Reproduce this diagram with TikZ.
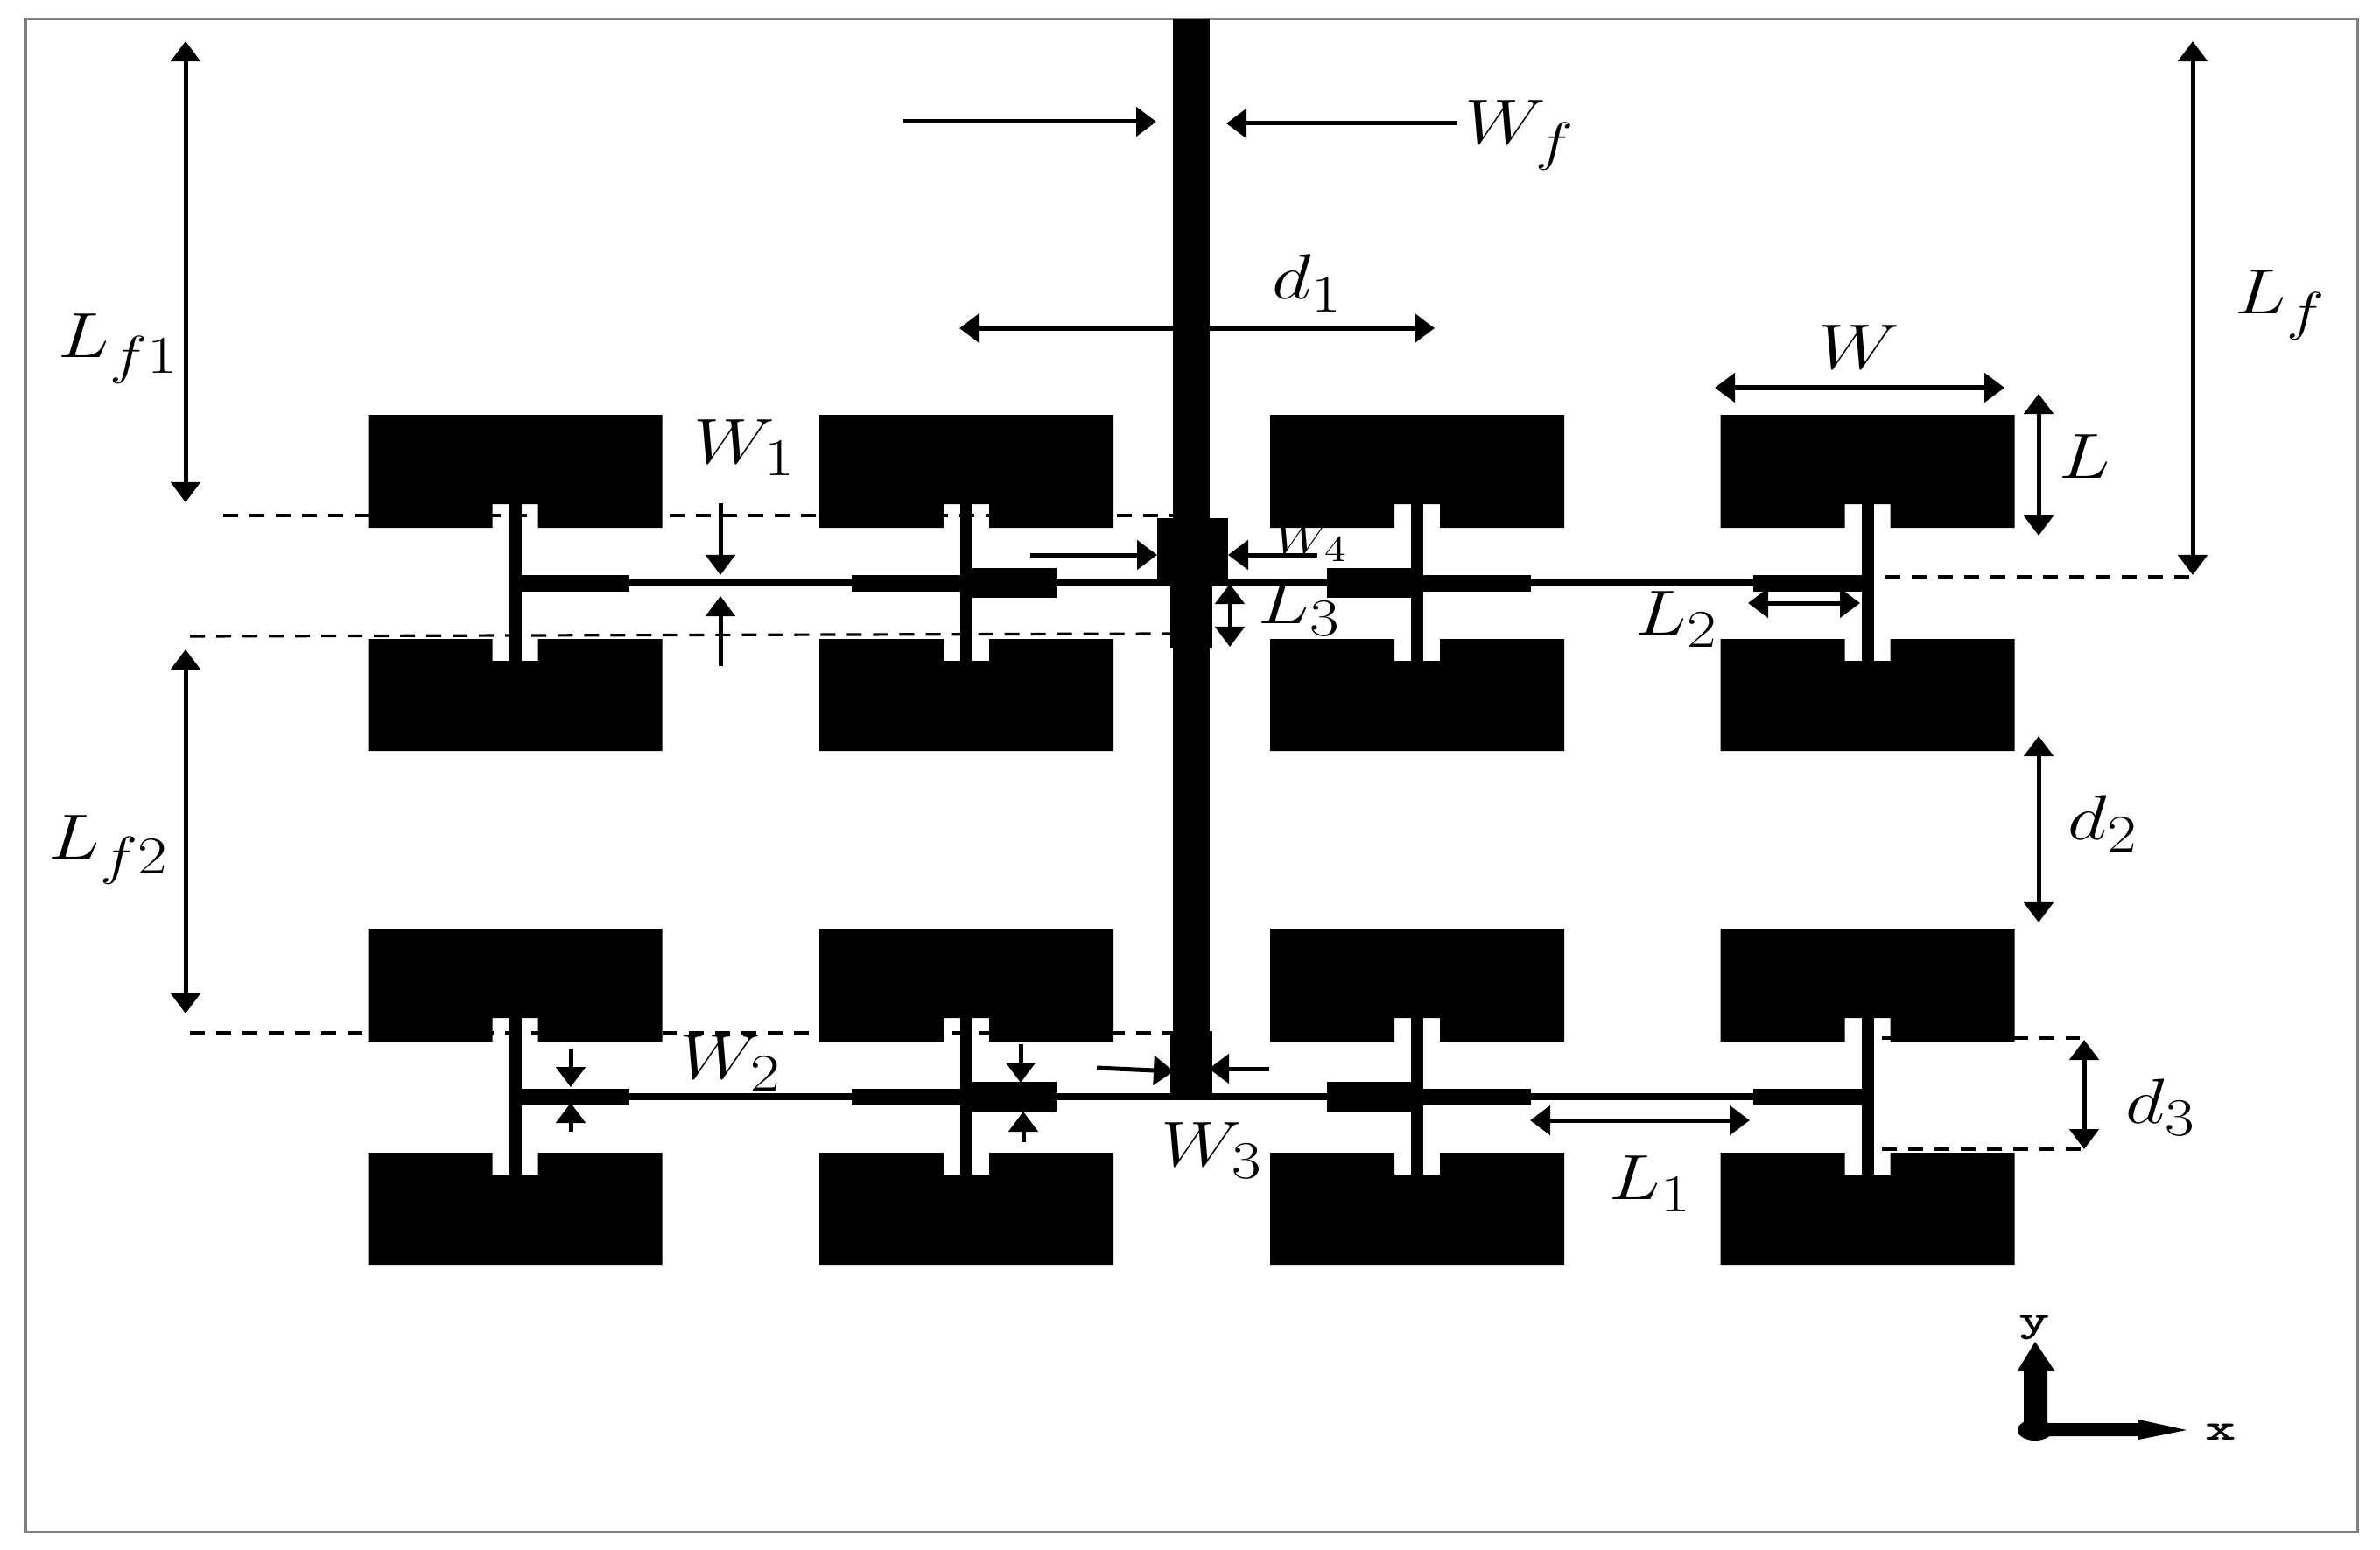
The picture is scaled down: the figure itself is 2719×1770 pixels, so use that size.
\documentclass[tikz,border=0pt]{standalone}
\usepackage{amsmath}
\usepackage{amssymb}
\usetikzlibrary{arrows.meta}
\DeclareMathSizes{21}{21}{17}{14}
\DeclareMathSizes{14.4}{14.4}{12}{10}

\begin{document}
\begin{tikzpicture}[x=0.01cm,y=-0.01cm,
  >={Triangle[length=0.23cm,width=0.33cm]},
  dimline/.style={<->,line width=0.05cm},
  oneline/.style={->,line width=0.05cm},
  cutline/.style={line width=0.032cm,dash pattern=on 0.17cm off 0.13cm},
  dimlabel/.style={anchor=base west,inner sep=0pt,font=\fontsize{21}{25}\selectfont,xscale=1.2,transform shape},
  smalllabel/.style={dimlabel,font=\fontsize{14.4}{17}\selectfont},
  axislabel/.style={inner sep=0pt,font=\fontsize{12}{14}\selectfont\ttfamily\bfseries,xscale=1.6,transform shape}]
\useasboundingbox (0,0) rectangle (2719,1770);
\draw[gray,line width=0.03cm] (29,22) rectangle (2693,1750);

\node [dimlabel] (wf) at (1673,165) {$W_f$};
\node [dimlabel] (df) at (1453,342) {$d_1$};
\node [dimlabel] (lfa) at (66,409) {$L_{f1}$};
\node [dimlabel] (lfb) at (55,981) {$L_{f2}$};
\node [dimlabel] (lf) at (2553,359) {$L_f$};
\node [dimlabel] (wpatch) at (2077,421) {$W$};
\node [dimlabel] (lpatch) at (2352,546) {$L$};
\node [dimlabel] (wa) at (792,529) {$W_1$};
\node [dimlabel] (wb) at (776,1232) {$W_2$};
\node [dimlabel] (wc) at (1326,1332) {$W_3$};
\node [smalllabel] (wd) at (1456,632) {$W_4$};
\node [dimlabel] (la) at (1838,1370) {$L_1$};
\node [dimlabel] (lb) at (1868,725) {$L_2$};
\node [dimlabel] (lc) at (1437,712) {$L_3$};
\node [dimlabel] (db) at (2362,959) {$d_2$};
\node [dimlabel] (dc) at (2428,1283) {$d_3$};

\draw[cutline] (255,589) -- (1340,589);
\draw[cutline] (217,727) -- (1337,724);
\draw[cutline] (217,1180) -- (1337,1180);
\draw[cutline] (2154,659) -- (2503,659);
\draw[cutline] (2150,1186) -- (2376,1186);
\draw[cutline] (2150,1313) -- (2379,1313);

% patches and stubs
\foreach \yrow in {0,587} {
  \foreach \xcol in {588.5,1104,1619,2133.5} {
    \fill ({\xcol-168},{474+\yrow}) -- ({\xcol+168},{474+\yrow}) -- ({\xcol+168},{603+\yrow}) -- ({\xcol+26},{603+\yrow}) -- ({\xcol+26},{576+\yrow}) -- ({\xcol-26},{576+\yrow}) -- ({\xcol-26},{603+\yrow}) -- ({\xcol-168},{603+\yrow}) -- cycle;
    \fill ({\xcol-168},{858+\yrow}) -- ({\xcol+168},{858+\yrow}) -- ({\xcol+168},{730+\yrow}) -- ({\xcol+26},{730+\yrow}) -- ({\xcol+26},{755+\yrow}) -- ({\xcol-26},{755+\yrow}) -- ({\xcol-26},{730+\yrow}) -- ({\xcol-168},{730+\yrow}) -- cycle;
    \fill ({\xcol-7},{576+\yrow}) rectangle ({\xcol+7},{755+\yrow});
  }
  \fill (596,{662+\yrow}) rectangle (2130,{670+\yrow});
  \fill (596,{657+\yrow}) rectangle (719,{676+\yrow});
  \fill (973,{657+\yrow}) rectangle (1098,{676+\yrow});
  \fill (1100,{649+\yrow}) rectangle (1207,{683+\yrow});
  \fill (1516,{649+\yrow}) rectangle (1620,{683+\yrow});
  \fill (1620,{657+\yrow}) rectangle (1749,{676+\yrow});
  \fill (2003,{657+\yrow}) rectangle (2130,{676+\yrow});
}

% feed
\fill (1340,22) rectangle (1382,1257);
\fill (1322,592) rectangle (1403,668);
\fill (1337,668) rectangle (1385,740);
\fill (1337,1178) rectangle (1385,1257);

\draw[oneline] (1032,139) -- (1321,139);
\draw[oneline] (1665,141) -- (1401,141);
\draw[dimline] (1096,375) -- (1639,375);
\draw[dimline] (212,47) -- (212,574);
\draw[dimline] (212,742) -- (212,1158);
\draw[dimline] (2505,47) -- (2505,657);
\draw[dimline] (1959,443) -- (2290,443);
\draw[dimline] (2329,450) -- (2329,612);
\draw[dimline] (1997,689) -- (2125,689);
\draw[dimline] (1748,1280) -- (1999,1280);
\draw[dimline] (2329,841) -- (2329,1054);
\draw[dimline] (2381,1188) -- (2381,1313);
\draw[dimline] (1405,667) -- (1405,739);
\draw[oneline] (823,575) -- (823,657);
\draw[oneline] (823,761) -- (823,681);
\draw[oneline] (652,1198) -- (652,1242);
\draw[oneline] (652,1293) -- (652,1260);
\draw[oneline] (1166,1193) -- (1166,1237);
\draw[oneline] (1169,1305) -- (1169,1270);
\draw[oneline] (1253,1220) -- (1341,1224);
\draw[oneline] (1450,1221) -- (1381,1221);
\draw[oneline] (1177,634) -- (1322,634);
\draw[oneline] (1505,634) -- (1403,634);

% axes
\coordinate (origin) at (2325,1634);
\fill (origin) ellipse (0.2cm and 0.12cm);
\fill (2312,1634) -- (2312,1566) -- (2305,1566) -- (2325,1533) -- (2347,1566) -- (2339,1566) -- (2339,1634) -- cycle;
\fill (2325,1626) -- (2443,1626) -- (2443,1622) -- (2498,1634) -- (2443,1645) -- (2443,1641) -- (2325,1641) -- cycle;
\node [axislabel] (axisy) at (2324,1517) {y};
\node [axislabel] (axisx) at (2537,1636) {x};
\end{tikzpicture}
\end{document}
